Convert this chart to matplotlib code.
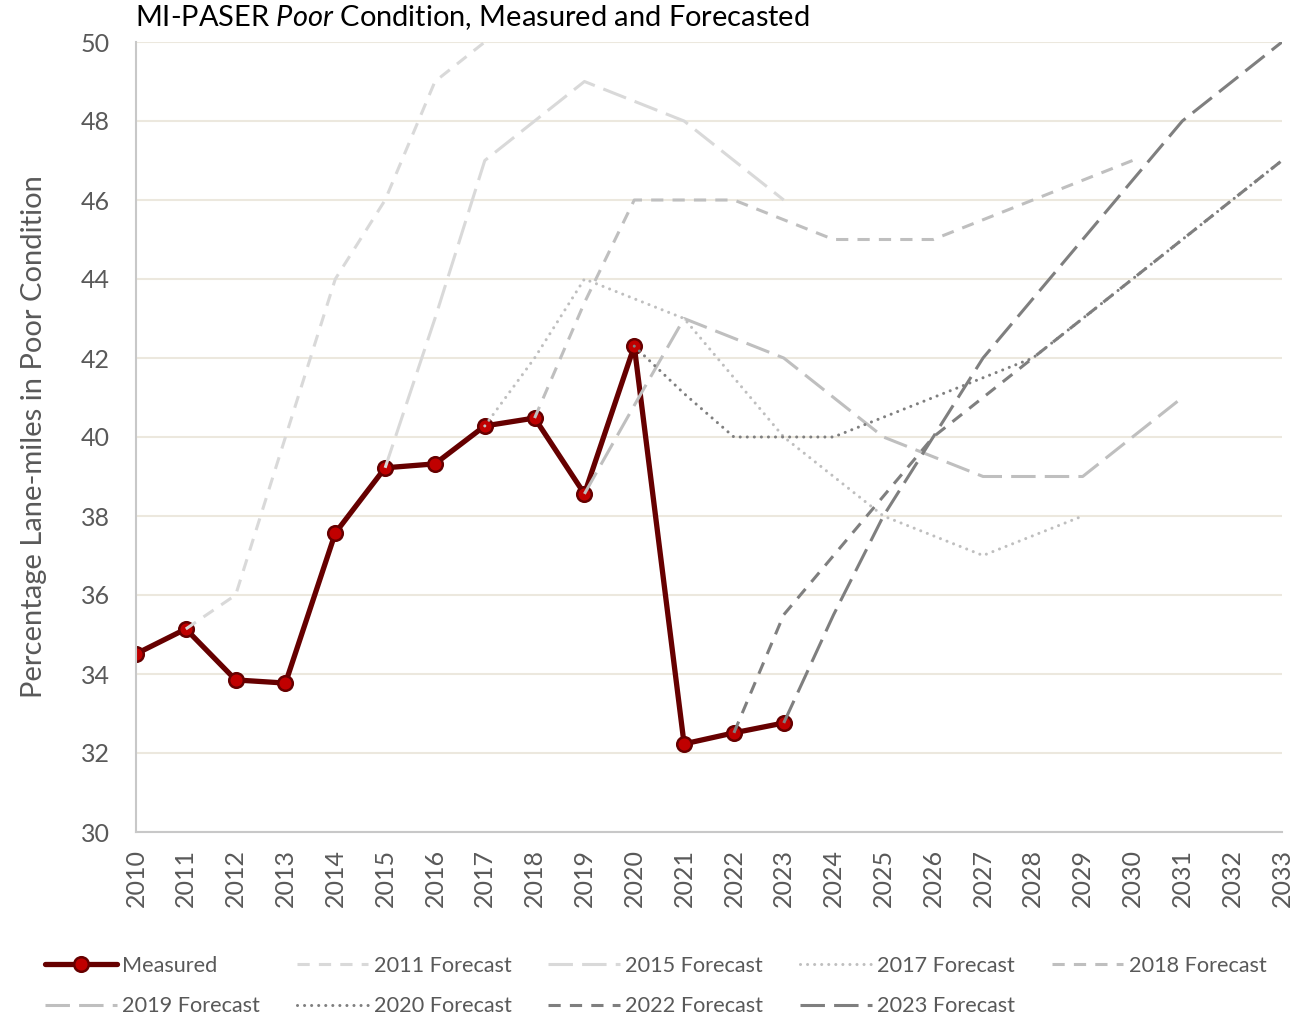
import matplotlib
matplotlib.use("Agg")
import matplotlib.pyplot as plt
import numpy as np

plt.rcParams['font.family'] = ['Lato', 'DejaVu Sans']
plt.rcParams['mathtext.fontset'] = 'custom'
plt.rcParams['mathtext.rm'] = 'Lato'
plt.rcParams['mathtext.it'] = 'Lato:italic'

# measured values
years = list(range(2010, 2034))
meas_years = list(range(2010, 2024))
measured = [34.51, 35.14, 33.85, 33.77, 37.57, 39.22, 39.32, 40.28, 40.48,
            38.56, 42.30, 32.23, 32.51, 32.76]

# forecasts (first year = year the forecast was made)
f2011_years = list(range(2011, 2018))
f2011 = [35.14, 36, 40, 44, 46, 49, 50]
f2015_years = list(range(2015, 2024))
f2015 = [39.22, 43, 47, 48, 49, 48.5, 48, 47, 46]
f2017_years = list(range(2017, 2030))
f2017 = [40.28, 42, 44, 43.5, 43, 41.5, 40, 39, 38, 37.5, 37, 37.5, 38]
f2018_years = list(range(2018, 2031))
f2018 = [40.48, 43.4, 46, 46, 46, 45.5, 45, 45, 45, 45.5, 46, 46.5, 47]
f2019_years = list(range(2019, 2032))
f2019 = [38.56, 40.8, 43, 42.5, 42, 41, 40, 39.5, 39, 39, 39, 40, 41]
f2020_years = list(range(2020, 2034))
f2020 = [42.30, 41.1, 40, 40, 40, 40.5, 41, 41.5, 42, 43, 44, 45, 46, 47]
f2022_years = list(range(2022, 2034))
f2022 = [32.51, 35.5, 37, 38.5, 40, 41, 42, 43, 44, 45, 46, 47]
f2023_years = list(range(2023, 2034))
f2023 = [32.76, 35.5, 38, 40, 42, 43.5, 45, 46.5, 48, 49, 50]

light = '#d9d9d9'
mid = '#bfbfbf'
dark = '#7f7f7f'
DASH = (4, 3)
LONG = (8, 3)
DOT = (0.01, 2.3)

forecasts = [
    ('2011 Forecast', f2011_years, f2011, light, DASH),
    ('2015 Forecast', f2015_years, f2015, light, LONG),
    ('2017 Forecast', f2017_years, f2017, mid, DOT),
    ('2018 Forecast', f2018_years, f2018, mid, DASH),
    ('2019 Forecast', f2019_years, f2019, mid, LONG),
    ('2020 Forecast', f2020_years, f2020, dark, DOT),
    ('2022 Forecast', f2022_years, f2022, dark, DASH),
    ('2023 Forecast', f2023_years, f2023, dark, LONG),
]

fig = plt.figure(figsize=(13.01, 10.17), dpi=100)
ax = fig.add_axes([136/1301, 1-832/1017, (1282-136)/1301, (832-42)/1017])

handles = {}
m, = ax.plot(meas_years, measured, color='#660000', lw=3.8, marker='o',
             markersize=10.5, markerfacecolor='#c00000', markeredgecolor='#660000',
             markeredgewidth=1.8, zorder=2, label='Measured', solid_capstyle='round')
handles['Measured'] = m
for name, xs, ys, col, dash in forecasts:
    ln, = ax.plot(xs, ys, color=col, lw=2.2, zorder=3, label=name)
    ln.set_dashes(dash)
    if dash == DOT:
        ln.set_dash_capstyle('round')
    handles[name] = ln

ax.set_xlim(2010, 2033)
ax.set_ylim(30, 50)
ax.set_xticks(years)
ax.set_xticklabels([str(y) for y in years], rotation=90)
ax.set_yticks(np.arange(30, 51, 2))
ax.tick_params(length=0, labelsize=18, labelcolor='#595959')
ax.tick_params(axis='x', pad=12)
ax.tick_params(axis='y', pad=19)
ax.grid(axis='y', color='#ece8de', lw=1.5)
ax.set_axisbelow(True)
for s in ['top', 'right']:
    ax.spines[s].set_visible(False)
for s in ['left', 'bottom']:
    ax.spines[s].set_color('#c8c8c8')
    ax.spines[s].set_linewidth(1.5)

ax.set_ylabel('Percentage Lane-miles in Poor Condition', fontsize=21,
              color='#595959')
ax.yaxis.set_label_coords((47-136)/1146, 0.5)

fig.text(135/1301, 1-18/1017, r'MI-PASER $\mathit{Poor}$ Condition, Measured and Forecasted',
         fontsize=20.9, color='black', ha='left', va='center')

# legend, column-major order
order = ['Measured', '2019 Forecast', '2011 Forecast', '2020 Forecast',
         '2015 Forecast', '2022 Forecast', '2017 Forecast', '2023 Forecast',
         '2018 Forecast']
fig.legend([handles[k] for k in order], order, ncol=5, frameon=False,
           loc='upper left', bbox_to_anchor=(45/1301, 1-956/1017),
           fontsize=15.6, labelcolor='#595959', handlelength=3.3,
           handletextpad=0.25, columnspacing=1.7, labelspacing=0.94,
           borderaxespad=0, borderpad=0)

fig.savefig('out.png', dpi=100)
